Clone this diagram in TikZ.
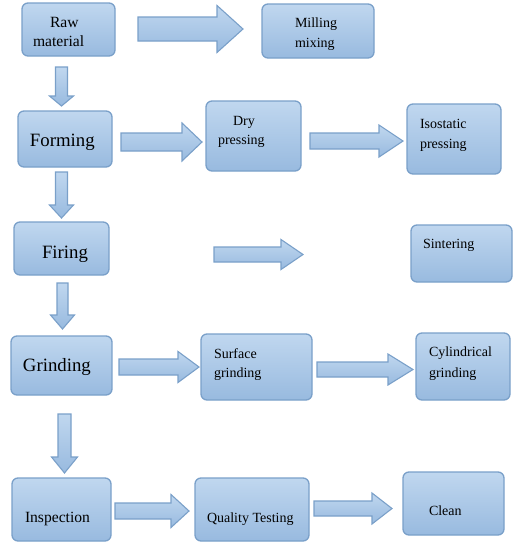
\documentclass[tikz,border=0pt]{standalone}
\usepackage{fontspec}
\setmainfont{Liberation Serif}
\definecolor{boxtop}{RGB}{192,215,239}
\definecolor{boxbot}{RGB}{152,186,223}
\definecolor{boxline}{RGB}{122,160,201}
\tikzset{
  box/.style={draw=boxline, line width=1.3pt, rounded corners=6pt, top color=boxtop, bottom color=boxbot, inner sep=0pt, outer sep=0pt},
  barrow/.style={draw=boxline, line width=1.1pt, top color=boxtop, bottom color=boxbot, line join=miter},
  lbl/.style={anchor=base west, inner sep=0pt, outer sep=0pt, font=\fontsize{14}{16}\selectfont},
  lblbig/.style={lbl, font=\fontsize{18.8}{21}\selectfont},
  lblmid/.style={lbl, font=\fontsize{15.6}{18}\selectfont}
}
% name, x1, y1, x2, y2
\newcommand\pbox[5]{\node[box, minimum width={(#4-#2)*1pt}, minimum height={(#5-#3)*1pt}] (#1) at ({(#2+#4)/2},{(#3+#5)/2}) {};}
% right arrow: x1, xhead, xtip, ycenter, shaft half, head half
\newcommand\rarrow[6]{\path[barrow] (#1,#4-#5) -- (#2,#4-#5) -- (#2,#4-#6) -- (#3,#4) -- (#2,#4+#6) -- (#2,#4+#5) -- (#1,#4+#5) -- cycle;}
% down arrow: xcenter, y1, yhead, ytip, shaft half, head half
\newcommand\darrow[6]{\path[barrow] (#1-#5,#2) -- (#1+#5,#2) -- (#1+#5,#3) -- (#1+#6,#3) -- (#1,#4) -- (#1-#6,#3) -- (#1-#5,#3) -- cycle;}
\begin{document}
\begin{tikzpicture}[x=1pt,y=-1pt]
\useasboundingbox (0,0) rectangle (531,547);
% boxes
\pbox{raw}{22}{3}{115}{56}
\pbox{mill}{262}{4}{374}{58}
\pbox{form}{18}{111}{112}{167}
\pbox{dry}{206}{101}{301}{171}
\pbox{iso}{407}{104}{501}{174}
\pbox{fire}{14}{222}{109}{275}
\pbox{sint}{411}{225}{512}{282}
\pbox{grind}{11}{336}{112}{395}
\pbox{surf}{201}{334}{312}{400}
\pbox{cyl}{416}{333}{510}{400}
\pbox{insp}{12}{478}{111}{541}
\pbox{qual}{195}{478}{309}{541}
\pbox{clean}{403}{472}{504}{535}
% labels
\node[lblmid] (t1a) at (50,27) {Raw};
\node[lblmid] (t1b) at (33,46) {material};
\node[lbl] (t2a) at (295,27) {Milling};
\node[lbl] (t2b) at (295,47) {mixing};
\node[lblbig] (t3) at (30,146) {Forming};
\node[lbl] (t4a) at (233,125) {Dry};
\node[lbl] (t4b) at (218,144) {pressing};
\node[lbl] (t5a) at (420,128) {Isostatic};
\node[lbl] (t5b) at (420,148) {pressing};
\node[lblbig] (t6) at (42,258) {Firing};
\node[lbl] (t7) at (423,248) {Sintering};
\node[lblbig] (t8) at (23,371) {Grinding};
\node[lbl] (t9a) at (214,358) {Surface};
\node[lbl] (t9b) at (214,377) {grinding};
\node[lbl] (t10a) at (429,356) {Cylindrical};
\node[lbl] (t10b) at (429,377) {grinding};
\node[lblmid] (t11) at (25,522) {Inspection};
\node[lbl] (t12) at (207,522) {Quality Testing};
\node[lbl] (t13) at (429,515) {Clean};
% block arrows
\rarrow{138}{217}{243}{29}{12}{23.5}
\darrow{61.5}{67}{96}{106}{6}{12}
\rarrow{121}{182}{202}{142}{9}{19}
\rarrow{310}{379}{403}{141}{8}{16}
\darrow{61.5}{172}{205}{218}{6}{12}
\rarrow{214}{281}{303}{254.5}{7.5}{15}
\darrow{62.5}{283}{315}{329}{5.5}{12}
\rarrow{119}{178}{199}{367}{8}{15.5}
\rarrow{317}{388}{413}{369.5}{7.5}{15.5}
\darrow{64.5}{414}{457}{473}{6.5}{13}
\rarrow{115}{171}{189}{511}{8}{16.5}
\rarrow{314}{372}{392}{508.5}{7.5}{15.5}
\end{tikzpicture}
\end{document}
